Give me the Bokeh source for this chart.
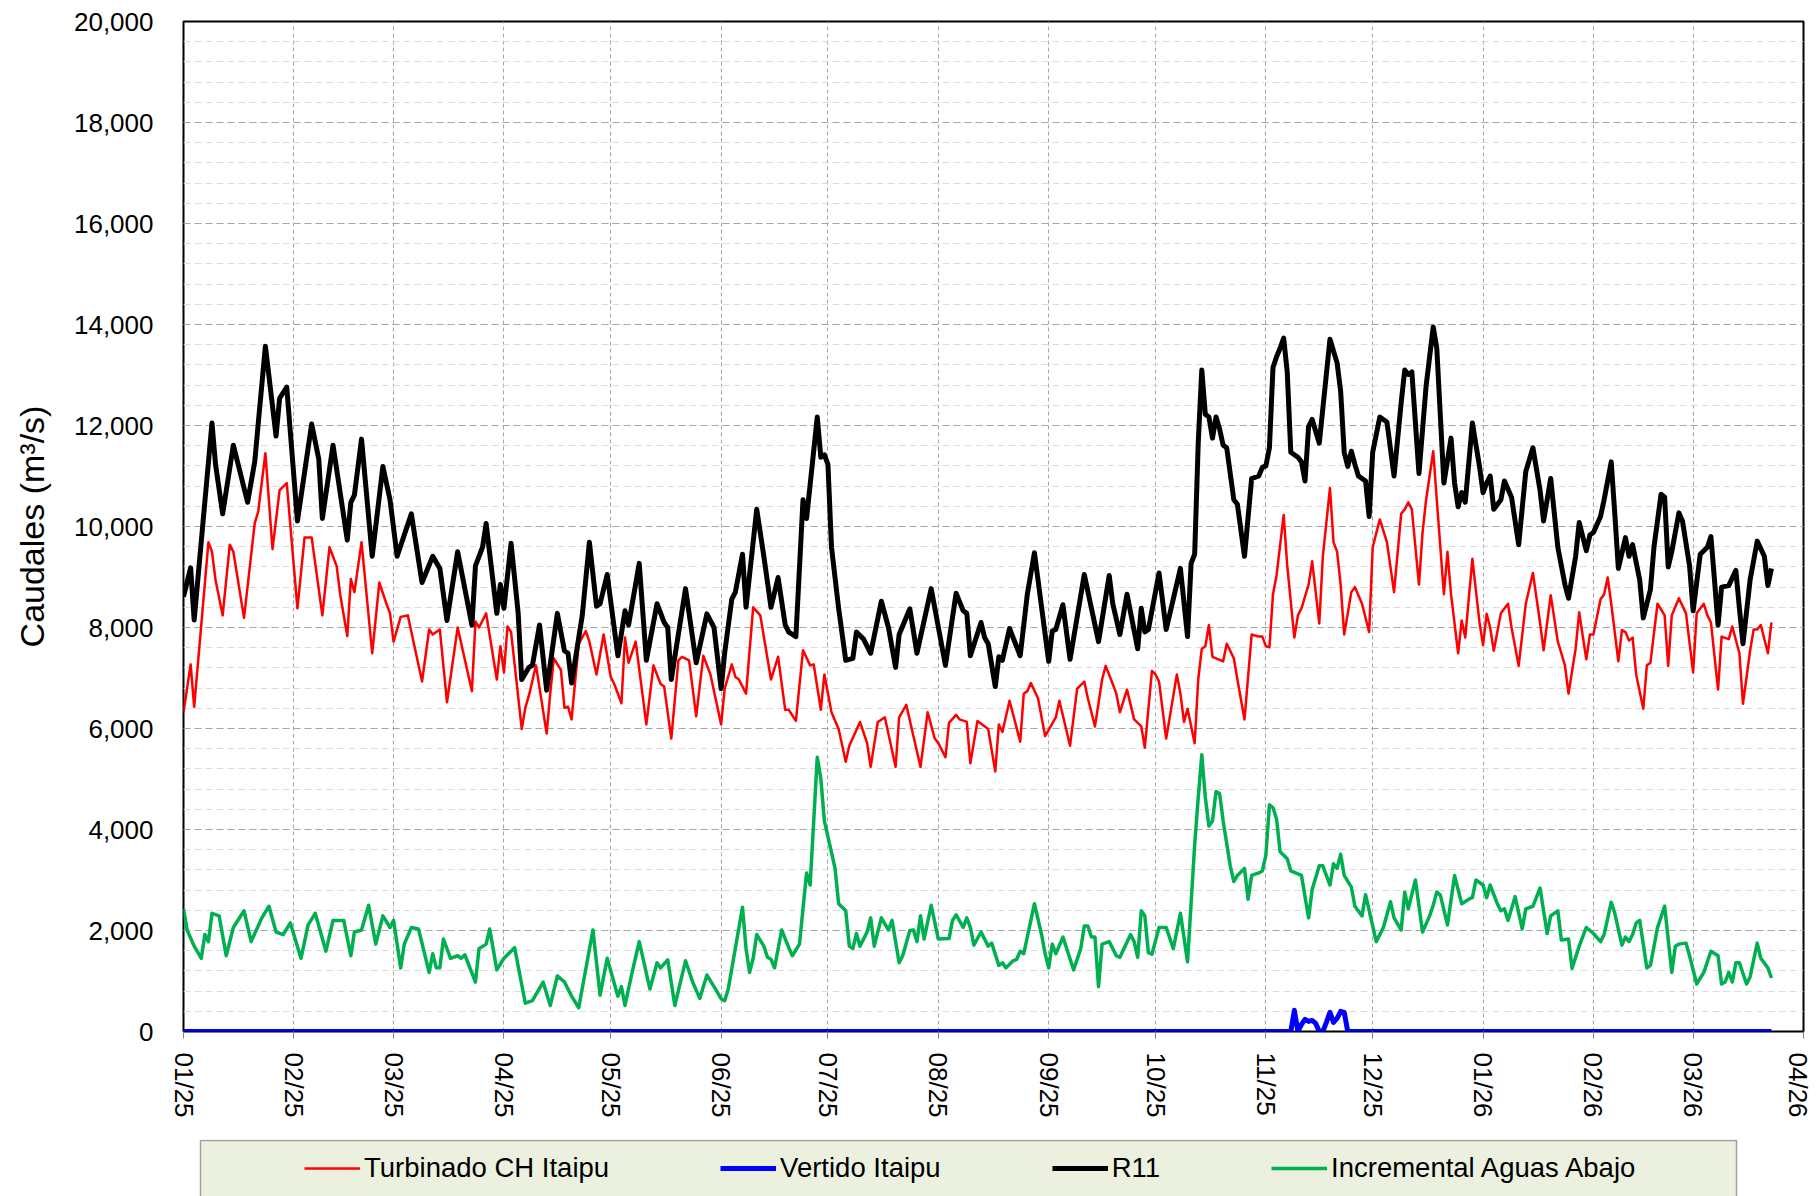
import pandas as pd
from bokeh.plotting import figure
from bokeh.layouts import column
from bokeh.models import (ColumnDataSource, Range1d, FixedTicker, NumeralTickFormatter,
                          Legend, LegendItem)
from bokeh.embed import file_html
from bokeh.resources import INLINE

BASE = pd.Timestamp("2025-01-01")

# ---- data: days since 2025-01-01 and flows (m3/s) ----
r11_day = [0,2,3,8,9,11,14,18,20,23,26,27,29,32,36,38,39,42,46,47,48,50,53,56,58,60,64,67,70,72,74,77,81,82,84,85,88,89,90,92,94,95,97,98,100,102,105,107,108,109,112,114,116,117,119,122,124,125,128,130,133,135,136,137,141,144,147,149,151,152,154,155,157,158,161,163,165,167,169,170,172,174,175,178,179,180,181,182,184,186,188,189,191,193,196,198,200,201,204,206,210,214,217,219,220,221,224,225,226,228,229,230,232,235,237,239,243,244,245,247,249,253,255,257,260,261,263,265,268,269,270,271,274,276,280,282,283,284,285,286,287,288,289,290,291,292,293,295,296,298,300,302,303,304,305,306,307,308,309,310,311,313,314,315,316,317,319,322,324,325,326,327,328,329,330,332,333,334,336,338,340,342,343,344,345,347,349,351,352,354,356,357,358,359,360,362,364,365,366,367,368,370,371,373,375,377,379,381,382,384,386,388,389,391,392,394,395,396,398,399,401,402,403,405,406,407,409,410,412,413,415,416,417,418,420,421,423,424,426,428,429,430,431,432,434,436,437,438,440,442,444,445,446]
r11_val = [8610,9180,8150,12050,11230,10250,11610,10480,11280,13570,11790,12540,12760,10110,12030,11330,10160,11610,9730,10480,10620,11730,9410,11190,10530,9410,10250,8890,9410,9170,8140,9500,8050,9220,9590,10060,8280,8850,8380,9670,8280,6970,7210,7250,8050,6760,8280,7540,7490,6900,8240,9690,8420,8470,9050,7440,8330,8050,9270,7350,8470,8100,8000,6970,8770,7300,8270,8000,6790,7500,8560,8700,9450,8400,10340,9410,8400,8990,8050,7910,7820,10530,10160,12170,11370,11420,11230,9590,8380,7350,7390,7910,7770,7490,8520,8000,7210,7860,8370,7490,8770,7250,8680,8330,8280,7440,8100,7800,7680,6830,7420,7350,7980,7440,8660,9480,7330,7930,7960,8450,7370,9050,8380,7720,9030,8470,7860,8660,7580,8380,7910,7960,9080,7960,9170,7820,9270,9450,11650,13100,12220,12170,11750,12170,11930,11610,11560,10530,10440,9410,10950,11000,11170,11200,11560,13150,13360,13530,13730,13060,11470,11370,11280,10900,11980,12120,11650,13710,13240,12680,11470,11190,11490,11230,11000,10900,10200,11470,12170,12070,11000,12450,13100,13010,13060,11050,12780,13950,13530,10860,11750,10860,10390,10670,10480,12050,11190,10670,10860,11000,10340,10530,10900,10580,9640,11090,11560,10720,10110,10950,9590,8850,8580,9410,10080,9520,9830,9880,10200,10530,11280,10250,9170,9780,9410,9640,8940,8190,8750,9590,10640,10580,9200,9500,10270,10110,9220,8330,9450,9590,9800,8940,8050,8800,8830,9130,8380,7680,8940,9710,9410,8830,9170]

turb_day = [0,2,3,7,8,9,11,13,14,17,20,21,23,25,27,29,32,34,36,39,41,43,44,46,47,48,50,53,55,57,58,59,61,63,67,69,70,72,74,77,81,82,83,85,88,89,90,91,92,95,96,97,99,102,103,104,106,107,108,109,111,113,114,116,118,120,121,123,124,125,127,130,132,134,135,137,139,140,142,144,146,148,151,152,154,155,156,158,160,162,165,167,169,170,172,174,176,177,179,180,182,184,186,187,190,192,193,195,197,200,201,203,205,207,209,211,212,214,215,217,218,220,221,223,226,228,229,230,232,235,236,237,238,240,242,245,246,249,251,253,254,256,258,259,261,262,263,265,267,269,270,272,273,274,276,279,280,281,282,284,285,286,287,288,289,292,293,295,296,298,300,302,303,304,305,306,307,309,310,312,313,314,316,317,319,320,322,323,324,325,326,328,329,331,333,334,336,338,340,342,343,344,345,347,348,349,351,352,354,355,356,358,359,360,362,364,365,366,367,368,370,372,373,375,377,379,381,382,384,386,388,389,391,392,394,395,396,398,399,400,401,403,404,405,406,407,408,410,411,412,414,416,417,418,420,422,424,425,427,428,429,431,432,434,435,437,438,440,441,442,443,445,446]
turb_val = [6320,7270,6430,9690,9500,8940,8240,9640,9500,8190,10060,10300,11450,9550,10720,10860,8380,9780,9780,8240,9590,9220,8660,7830,8960,8700,9690,7490,8890,8470,8280,7720,8210,8240,6930,7960,7860,7960,6520,8000,6740,8120,8000,8280,6970,7630,7110,8020,7910,5990,6410,6650,7250,5900,6690,7390,7160,6410,6430,6180,7680,7930,7720,7070,7860,7020,6880,6500,7800,7300,7720,6080,7250,6880,6830,5800,7350,7420,7350,6240,7440,7070,6080,6790,7270,7020,6970,6690,8400,8240,6970,7420,6370,6370,6150,7550,7250,7270,6370,7070,6320,5990,5340,5660,6130,5710,5240,6130,6220,5240,6220,6470,5850,5240,6320,5800,5710,5430,6110,6270,6180,6130,5310,6150,5990,5150,6080,5930,6550,5740,6690,6740,6900,6600,5850,6220,6550,5660,6790,6930,6600,6040,6970,7240,6880,6690,6320,6770,6180,6040,5620,7140,7070,6930,5800,7070,6690,6130,6390,5710,6970,7580,7630,8050,7420,7330,7680,7390,6970,6180,7860,7820,7820,7630,7610,8660,9030,10230,9220,7800,8240,8380,8850,9310,8080,9410,10760,9690,9500,8850,7860,8700,8800,8470,7910,9590,10140,9690,8700,10250,10340,10480,10340,8850,9880,10530,11490,10530,8660,9500,8660,7490,8140,7800,9360,8100,7650,8270,8000,7540,8280,8470,8000,7240,8470,9080,8100,7550,8640,7720,7250,6690,7580,8300,7370,7860,7860,8560,8660,8990,8470,7330,7950,7910,7740,7800,7070,6390,7250,7300,8470,8240,7240,8240,8580,8280,7110,8280,8470,8240,8100,6770,7820,7770,8020,7490,6490,7540,7960,7960,8050,7490,8100]

incr_day = [0,1,3,5,6,7,8,10,12,14,17,19,22,24,26,28,30,33,35,37,40,42,45,47,48,50,52,54,56,58,59,61,62,64,66,69,70,71,72,73,75,77,78,79,82,83,85,86,88,90,93,96,98,101,103,105,107,109,111,115,117,119,122,123,124,126,128,131,133,134,136,138,141,143,145,147,149,151,152,153,157,158,159,160,161,163,164,165,166,168,170,171,173,175,176,178,179,180,183,184,186,187,188,189,190,192,193,194,196,198,199,201,202,204,205,206,207,208,210,212,215,216,217,219,220,221,222,224,226,227,229,230,231,233,234,235,236,239,241,242,243,244,245,247,250,252,253,254,255,256,257,258,260,262,263,266,267,268,269,270,271,272,274,276,278,280,282,284,285,286,287,288,289,290,291,292,294,295,296,298,299,300,302,303,304,305,306,307,308,310,311,314,316,317,319,320,322,323,324,325,326,328,329,331,332,335,337,339,340,342,343,344,346,348,350,351,352,353,355,357,359,361,362,363,365,366,367,369,370,371,372,374,376,377,379,381,382,383,384,386,387,389,390,392,394,396,398,399,401,402,404,405,406,407,408,409,411,412,414,416,417,418,419,420,422,423,425,427,429,431,432,433,434,435,436,437,439,440,442,443,445,446]
incr_val = [2430,2010,1690,1450,1920,1780,2340,2290,1500,2060,2390,1780,2250,2480,1970,1920,2150,1450,2110,2340,1590,2200,2200,1500,1970,2010,2500,1730,2290,2060,2200,1260,1730,2060,2030,1170,1540,1260,1260,1830,1450,1500,1450,1520,980,1640,1730,2030,1220,1450,1660,560,610,980,515,1100,980,700,470,2010,720,1450,700,890,515,1170,1780,840,1360,1260,1420,515,1400,980,655,1120,890,650,610,840,2460,1640,1170,1450,1920,1690,1470,1430,1260,2010,1660,1500,1730,3140,2900,5430,5010,4170,3230,2530,2390,1690,1640,1940,1690,1970,2250,1690,2250,2010,2200,1360,1500,2000,2010,1780,2290,1830,2500,1830,1840,2200,2310,2060,2250,2060,1710,1970,1690,1750,1310,1360,1260,1400,1430,1590,1540,2530,1920,1540,1260,1730,1540,1870,1220,1640,2090,2090,1870,1870,890,1730,1780,1500,1470,1920,1780,1470,2390,2290,1560,1530,2060,2060,1640,2340,1380,3700,4630,5480,4630,4070,4170,4750,4710,4170,3280,2970,3090,3230,2620,3090,3140,3180,3490,4490,4430,4210,3560,3420,3180,3090,2250,2810,3280,3280,2900,3320,3230,3510,3090,2860,2480,2290,2710,1780,2060,2570,2250,2010,2760,2430,3000,1970,2290,2500,2760,2700,2110,3090,2530,2620,2650,3000,2900,2650,2900,2530,2390,2430,2200,2670,2030,2430,2480,2840,2390,1940,2290,2390,1810,1830,1250,1690,2060,1940,1780,1920,2560,2340,1710,1870,1780,1920,2150,2200,1260,1310,2060,2480,1830,1170,1690,1730,1750,1500,940,1170,1590,1500,940,980,1170,980,1360,1360,940,1080,1750,1450,1260,1060]

vert_day = [0,311,312,313,314,315,316,317,318,319,320,321,322,323,324,325,326,327,446]
vert_val = [0,0,420,0,140,240,200,220,160,0,0,180,380,180,260,400,380,0,0]

series_names = ["Turbinado CH Itaipu", "Vertido Itaipu", "R11", "Incremental Aguas Abajo"]
series_colors = ["#ff0000", "#0000ff", "#000000", "#00b050"]
series_widths = [2.5, 5, 5, 3.5]
month_starts = ["2025-01-01","2025-02-01","2025-03-01","2025-04-01","2025-05-01","2025-06-01",
                "2025-07-01","2025-08-01","2025-09-01","2025-10-01","2025-11-01","2025-12-01",
                "2026-01-01","2026-02-01","2026-03-01","2026-04-01"]
month_labels = ["01/25","02/25","03/25","04/25","05/25","06/25","07/25","08/25","09/25",
                "10/25","11/25","12/25","01/26","02/26","03/26","04/26"]
y_major = list(range(0, 20001, 2000))
y_minor = list(range(0, 20001, 400))


def src(days, vals):
    return ColumnDataSource(dict(x=BASE + pd.to_timedelta(days, unit="D"), y=vals))


FONT = "Liberation Sans"
BORDER_L, BORDER_R = 183, 9
p = figure(width=1812, height=1139, output_backend="svg", toolbar_location=None,
           x_axis_type="datetime",
           x_range=Range1d(BASE, pd.Timestamp("2026-04-01")),
           y_range=Range1d(0, 20000),
           min_border_left=BORDER_L, min_border_right=BORDER_R,
           min_border_top=21, min_border_bottom=108)
p.background_fill_color = "white"
p.border_fill_color = "white"
p.outline_line_color = "black"
p.outline_line_width = 2

month_ms = [int(pd.Timestamp(m).value // 10**6) for m in month_starts]
xt = FixedTicker(ticks=month_ms)
p.xaxis.ticker = xt
p.xgrid.ticker = xt
p.xaxis.major_label_overrides = {ms: lab for ms, lab in zip(month_ms, month_labels)}
p.xaxis.major_label_orientation = "vertical"
p.xaxis.major_label_text_font = FONT
p.xaxis.major_label_text_font_size = "26px"
p.xaxis.major_label_text_color = "black"
p.xaxis.major_tick_out = 7
p.xaxis.major_tick_in = 0
p.xaxis.major_tick_line_color = "#808080"
p.xaxis.minor_tick_line_color = None
p.xaxis.axis_line_color = None
p.xaxis.major_label_standoff = 14

yt = FixedTicker(ticks=y_major, minor_ticks=y_minor)
p.yaxis.ticker = yt
p.ygrid.ticker = yt
p.yaxis.formatter = NumeralTickFormatter(format="0,0")
p.yaxis.major_label_text_font = FONT
p.yaxis.major_label_text_font_size = "26px"
p.yaxis.major_label_text_color = "black"
p.yaxis.major_tick_line_color = None
p.yaxis.minor_tick_line_color = None
p.yaxis.major_tick_out = 0
p.yaxis.major_tick_in = 0
p.yaxis.axis_line_color = None
p.yaxis.major_label_standoff = 26
p.yaxis.axis_label = "Caudales (m³/s)"
p.yaxis.axis_label_text_font = FONT
p.yaxis.axis_label_text_font_size = "34px"
p.yaxis.axis_label_text_font_style = "normal"
p.yaxis.axis_label_text_color = "black"
p.yaxis.axis_label_standoff = 20

p.xgrid.grid_line_color = "#a6a6a6"
p.xgrid.grid_line_dash = "4 3"
p.ygrid.grid_line_color = "#a6a6a6"
p.ygrid.grid_line_dash = "7 4"
p.ygrid.minor_grid_line_color = "#dcdcdc"
p.ygrid.minor_grid_line_dash = "7 4"

data = [(turb_day, turb_val), (vert_day, vert_val), (r11_day, r11_val), (incr_day, incr_val)]
for (d, v), c, w in zip(data, series_colors, series_widths):
    p.line("x", "y", source=src(d, v), line_color=c, line_width=w, line_join="round")

# ---- legend band below the chart (1 range unit = 1 pixel) ----
LG_H = 57
lg = figure(width=1812, height=LG_H, output_backend="svg", toolbar_location=None,
            x_axis_location=None, y_axis_location=None,
            x_range=Range1d(BORDER_L, 1812 - BORDER_R), y_range=Range1d(0, LG_H),
            min_border_left=BORDER_L, min_border_right=BORDER_R,
            min_border_top=0, min_border_bottom=0)
lg.grid.visible = False
lg.background_fill_color = "white"
lg.border_fill_color = "white"
lg.outline_line_color = None
# legend box outline: from x=200 to x=1736, top 1 px below the band's top edge
lg.quad(left=[200], right=[1736], bottom=[-20], top=[LG_H - 1],
        fill_color="#ebf1de", line_color="#a0a0a0", line_width=1.5)

items = []
for n, c, w in zip(series_names, series_colors, series_widths):
    r = lg.line(x=[0, 1], y=[-100, -100], line_color=c, line_width=w)
    items.append(LegendItem(label=n, renderers=[r]))
legend = Legend(items=items, orientation="horizontal", location=(304 - BORDER_L, 12),
                glyph_width=56, glyph_height=20, label_standoff=4, spacing=111,
                padding=0, margin=0,
                label_text_font=FONT, label_text_font_size="27.5px", label_text_color="black",
                background_fill_alpha=0, border_line_color=None)
lg.add_layout(legend)

layout = column(p, lg, spacing=0)
open("out.html", "w").write(file_html(layout, INLINE))
